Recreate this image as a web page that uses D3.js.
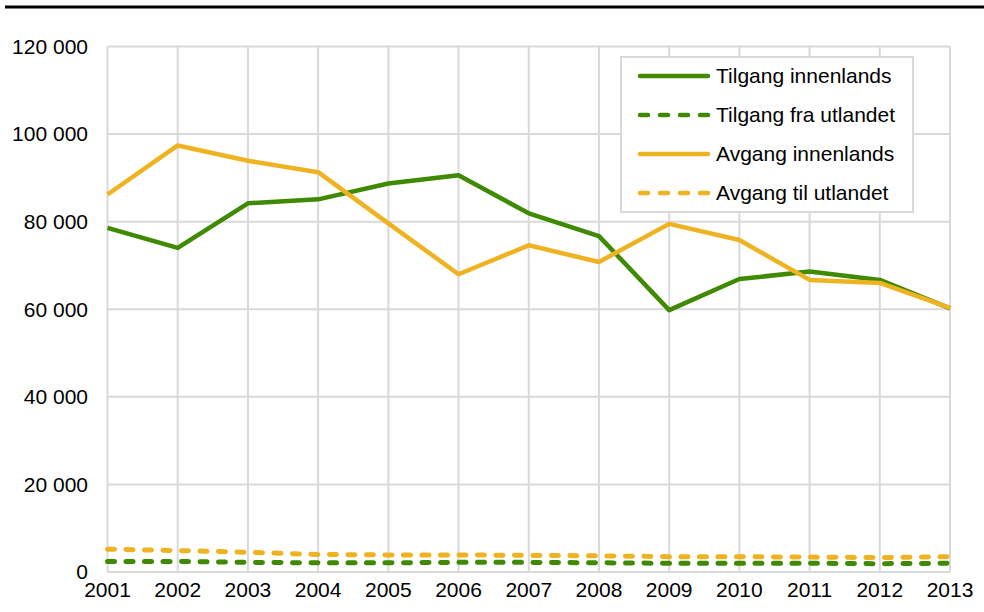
<!DOCTYPE html>
<html>
<head>
<meta charset="utf-8">
<script src="https://cdn.jsdelivr.net/npm/d3@7"></script>
<style>
  body { margin: 0; background: #fff; }
  svg { display: block; font-family: "Liberation Sans", Arial, sans-serif; }
</style>
</head>
<body>
<script>
const width = 984;
const height = 612;

// data
const years = [2001, 2002, 2003, 2004, 2005, 2006, 2007, 2008, 2009, 2010, 2011, 2012, 2013];
const tilgangInnenlands = [78600, 74000, 84200, 85100, 88700, 90600, 81900, 76700, 59800, 66900, 68600, 66700, 60200];
const tilgangUtlandet = [2400, 2400, 2200, 2100, 2100, 2200, 2200, 2100, 2000, 2000, 2000, 1900, 2000];
const avgangInnenlands = [86200, 97400, 93900, 91300, 79600, 68000, 74600, 70800, 79500, 75800, 66700, 66000, 60300];
const avgangUtlandet = [5200, 4900, 4500, 4000, 3900, 3900, 3800, 3700, 3500, 3500, 3400, 3300, 3500];
const yTicks = [0, 20000, 40000, 60000, 80000, 100000, 120000];
const seriesNames = ["Tilgang innenlands", "Tilgang fra utlandet", "Avgang innenlands", "Avgang til utlandet"];

const green = "#3f8a02";
const yellow = "#efb322";
const gridColor = "#d9d9d9";

const series = [
  { name: seriesNames[0], values: tilgangInnenlands, color: green, dashed: false },
  { name: seriesNames[1], values: tilgangUtlandet, color: green, dashed: true },
  { name: seriesNames[2], values: avgangInnenlands, color: yellow, dashed: false },
  { name: seriesNames[3], values: avgangUtlandet, color: yellow, dashed: true }
];

const svg = d3.select("body")
  .append("svg")
  .attr("width", width)
  .attr("height", height);

// thick black rule at the top
svg.append("line")
  .attr("x1", 5).attr("x2", width)
  .attr("y1", 7).attr("y2", 7)
  .attr("stroke", "#000")
  .attr("stroke-width", 3);

const x = d3.scaleLinear().domain([2001, 2013]).range([107.5, 950]);
const y = d3.scaleLinear().domain([0, 120000]).range([572, 46.5]);

const fmt = d3.formatLocale({ decimal: ",", thousands: " ", grouping: [3], currency: ["", ""] }).format(",");

// horizontal grid
svg.append("g")
  .selectAll("line")
  .data(yTicks)
  .join("line")
  .attr("x1", x(2001)).attr("x2", x(2013))
  .attr("y1", d => y(d)).attr("y2", d => y(d))
  .attr("stroke", gridColor)
  .attr("stroke-width", 2);

// vertical grid
svg.append("g")
  .selectAll("line")
  .data(years)
  .join("line")
  .attr("x1", d => x(d)).attr("x2", d => x(d))
  .attr("y1", y(120000)).attr("y2", y(0))
  .attr("stroke", gridColor)
  .attr("stroke-width", 2);

// y tick labels
svg.append("g")
  .selectAll("text")
  .data(yTicks)
  .join("text")
  .attr("x", 88)
  .attr("y", d => y(d))
  .attr("dy", "0.35em")
  .attr("text-anchor", "end")
  .style("font-size", "21px")
  .style("fill", "#000")
  .text(d => fmt(d));

// x tick labels
svg.append("g")
  .selectAll("text")
  .data(years)
  .join("text")
  .attr("x", d => x(d))
  .attr("y", 597)
  .attr("text-anchor", "middle")
  .style("font-size", "21px")
  .style("fill", "#000")
  .text(d => d);

const line = d3.line()
  .x((d, i) => x(years[i]))
  .y(d => y(d));

// draw dashed first, then solid
const order = [series[1], series[3], series[0], series[2]];
svg.append("g")
  .selectAll("path")
  .data(order)
  .join("path")
  .attr("d", d => line(d.values))
  .attr("fill", "none")
  .attr("stroke", d => d.color)
  .attr("stroke-width", d => d.dashed ? 5 : 4.5)
  .attr("stroke-linecap", d => d.dashed ? "round" : "butt")
  .attr("stroke-linejoin", "round")
  .attr("stroke-dasharray", d => d.dashed ? "7,11.5" : null);

// legend
const legend = svg.append("g");
legend.append("rect")
  .attr("x", 621).attr("y", 57)
  .attr("width", 292).attr("height", 155)
  .attr("fill", "#fff")
  .attr("stroke", gridColor)
  .attr("stroke-width", 2);

const rows = legend.selectAll("g.row")
  .data(series)
  .join("g")
  .attr("class", "row")
  .attr("transform", (d, i) => `translate(0, ${76 + i * 39})`);

rows.append("line")
  .attr("x1", 640).attr("x2", 708)
  .attr("y1", 0).attr("y2", 0)
  .attr("stroke", d => d.color)
  .attr("stroke-width", 4.5)
  .attr("stroke-linecap", "round")
  .attr("stroke-dasharray", d => d.dashed ? "8,12" : null);

rows.append("text")
  .attr("x", 716)
  .attr("y", 0)
  .attr("dy", "0.35em")
  .style("font-size", "21px")
  .style("fill", "#000")
  .text(d => d.name);
</script>
</body>
</html>
